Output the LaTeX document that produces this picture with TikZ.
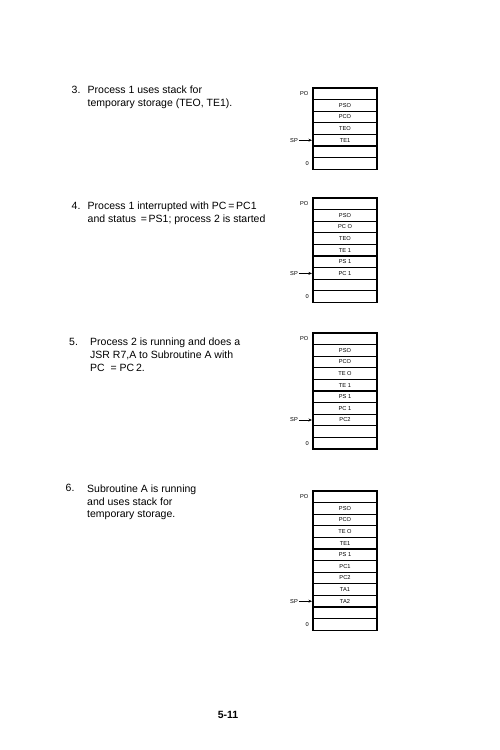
\documentclass[tikz,border=0pt]{standalone}
\usepackage{fontspec}
\setmainfont{Liberation Sans}
\usetikzlibrary{arrows.meta}
\newcommand\memstack[4]{%
  \foreach \c [count=\i] in {#3} {%
    \node[cell] (#1r\i) at (345,{#2+(\i-0.5)*11.6}) {\c};
    \xdef\lastrow{\i}}
  \node[lab, anchor=east] (#1po) at (308.5,{#2+5.8}) {PO};
  \node[lab, anchor=east] (#1zero) at (309,{#2+(\lastrow-0.5)*11.6}) {0};
  \node[lab, anchor=east] (#1sp) at (298,{#2+(#4-0.5)*11.6}) {SP};
  \draw[spar] (#1sp.east) -- (#1r#4.west);
}
\begin{document}
\begin{tikzpicture}[x=1pt,y=-1pt,
  cell/.style={draw, line width=1.1pt, minimum width=64pt, minimum height=11.6pt,
    inner sep=0pt, font=\fontsize{5.7}{6}\selectfont},
  lab/.style={font=\fontsize{5.7}{6}\selectfont, inner sep=0pt},
  spar/.style={line width=0.7pt, -{Stealth[length=3.5pt,width=3pt]}, shorten >=0.5pt, shorten <=0.8pt},
  txt/.style={anchor=base west, inner sep=0pt, font=\fontsize{10.5}{13}\selectfont}]
\useasboundingbox (0,0) rectangle (500,750);

% item 3
\node[txt] (n3) at (71.5,93) {3.};
\node[txt] (t3a) at (87.5,93) {Process 1 uses stack for};
\node[txt] (t3b) at (87.5,106) {temporary storage (TEO, TE1).};
\memstack{a}{88}{{},PSO,PCO,TEO,TE1,{},{}}{5}

% item 4
\node[txt] (n4) at (71.5,209.5) {4.};
\node[txt] (t4a) at (87.5,209.5) {Process 1 interrupted with PC\,=\,PC1};
\node[txt] (t4b) at (87.5,222.5) {and status \,=\,PS1; process 2 is started};
\memstack{b}{198}{{},PSO,PC O,TEO,TE 1,PS 1,PC 1,{},{}}{7}

% item 5
\node[txt] (n5) at (69,345) {5.};
\node[txt] (t5a) at (90,345) {Process 2 is running and does a};
\node[txt] (t5b) at (90,358) {JSR R7,A to Subroutine A with};
\node[txt] (t5c) at (90,371) {PC \ = PC\,2.};
\memstack{c}{333}{{},PSO,PCO,TE O,TE 1,PS 1,PC 1,PC2,{},{}}{8}

% item 6
\node[txt] (n6) at (65.5,491.5) {6.};
\node[txt] (t6a) at (87,492.5) {Subroutine A is running};
\node[txt] (t6b) at (87,505) {and uses stack for};
\node[txt] (t6c) at (87,517.5) {temporary storage.};
\memstack{d}{491}{{},PSO,PCO,TE O,TE1,PS 1,PC1,PC2,TA1,TA2,{},{}}{10}

% page number
\node[txt, anchor=base, font=\fontsize{10.5}{13}\selectfont\bfseries] (pg) at (228,718) {5-11};
\end{tikzpicture}
\end{document}
